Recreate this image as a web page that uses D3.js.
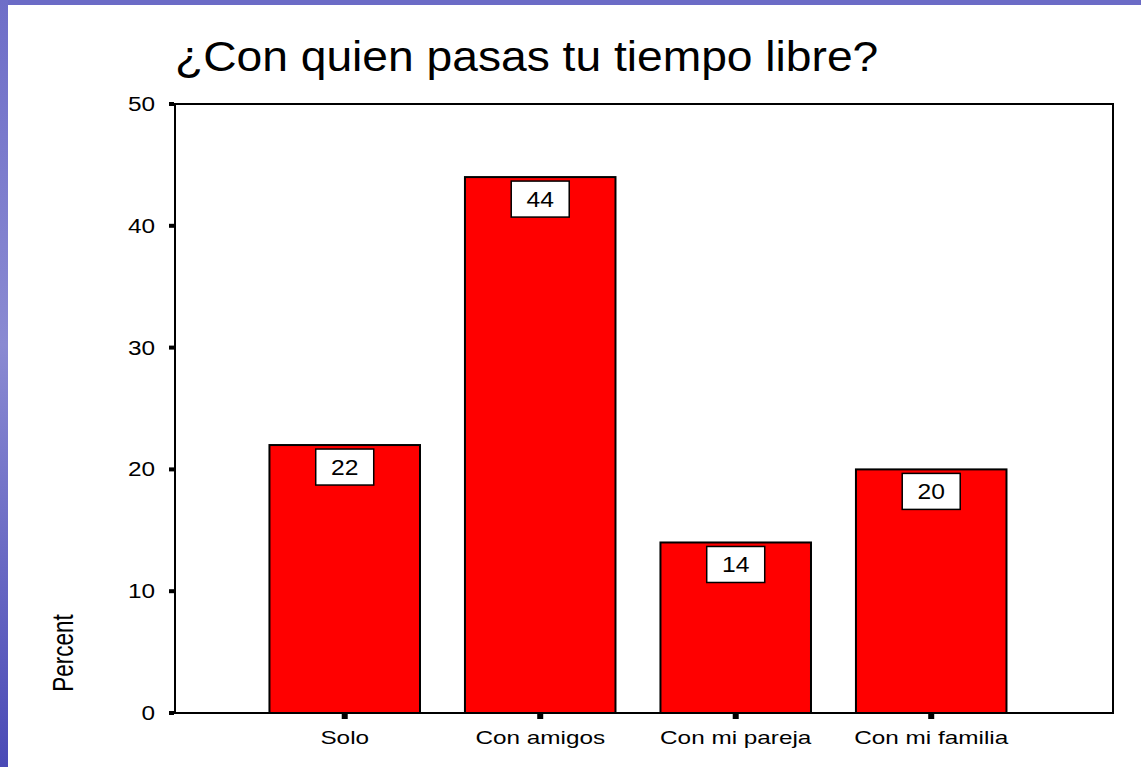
<!DOCTYPE html>
<meta charset="utf-8">
<script src="https://d3js.org/d3.v7.min.js"></script>
<style>
    body { margin: 0; background: #fff; }
    svg { display: block; font-family: "Liberation Sans", Arial, sans-serif; }
</style>
<body>
<div id="my_dataviz"></div>
<script>

    // data
    var categories = ["Solo", "Con amigos", "Con mi pareja", "Con mi familia"];
    var percents = [22, 44, 14, 20];
    var yTicks = [0, 10, 20, 30, 40, 50];

    var W = 1141, H = 767;
    var margin = { top: 104, right: 28, bottom: 54, left: 175 },
        width = W - margin.left - margin.right,
        height = H - margin.top - margin.bottom;

    // the original text looks a bit wider than normal, so stretch it
    var stretch = 1.25;

    var svg = d3.select("#my_dataviz")
        .append("svg")
        .attr("width", W)
        .attr("height", H);

    // slide background: blue strips on top and left
    var defs = svg.append("defs");
    var grad = defs.append("linearGradient")
        .attr("id", "leftGrad")
        .attr("x1", 0).attr("y1", 0).attr("x2", 0).attr("y2", 1);
    grad.append("stop").attr("offset", "0%").attr("stop-color", "#6e6ec8");
    grad.append("stop").attr("offset", "45%").attr("stop-color", "#8a8ad2");
    grad.append("stop").attr("offset", "100%").attr("stop-color", "#4a4ab6");

    svg.append("rect").attr("x", 0).attr("y", 0).attr("width", W).attr("height", 5).style("fill", "#6b6bc6");
    svg.append("rect").attr("x", 0).attr("y", 0).attr("width", 8).attr("height", H).style("fill", "url(#leftGrad)");

    // title
    svg.append("text")
        .attr("transform", "translate(175,71) scale(1.1,1)")
        .attr("font-size", "42px")
        .style("fill", "#000")
        .text("¿Con quien pasas tu tiempo libre?");

    var g = svg.append("g")
        .attr("transform", "translate(" + margin.left + "," + margin.top + ")");

    var x = d3.scaleBand()
        .domain(categories)
        .range([0, width])
        .paddingInner(0.23)
        .paddingOuter(0.514)
        .align(0.47);

    var y = d3.scaleLinear()
        .domain([0, 50])
        .range([height, 0]);

    // bars
    g.selectAll(".bar")
        .data(percents)
        .enter()
        .append("rect")
        .attr("class", "bar")
        .attr("x", function (d, i) { return x(categories[i]); })
        .attr("y", function (d) { return y(d); })
        .attr("width", x.bandwidth())
        .attr("height", function (d) { return height - y(d); })
        .style("fill", "#ff0000")
        .style("stroke", "#000")
        .style("stroke-width", 2);

    // value labels in white boxes
    var lab = g.selectAll(".lab")
        .data(percents)
        .enter()
        .append("g")
        .attr("transform", function (d, i) {
            return "translate(" + (x(categories[i]) + x.bandwidth() / 2) + "," + (y(d) + 4) + ")";
        });
    lab.append("rect")
        .attr("x", -29)
        .attr("y", 0)
        .attr("width", 58)
        .attr("height", 36)
        .style("fill", "#fff")
        .style("stroke", "#000")
        .style("stroke-width", 1.5);
    lab.append("text")
        .attr("text-anchor", "middle")
        .attr("transform", "translate(0,26) scale(1.12,1)")
        .attr("font-size", "22px")
        .text(function (d) { return d; });

    // frame
    g.append("rect")
        .attr("width", width)
        .attr("height", height)
        .style("fill", "none")
        .style("stroke", "#000")
        .style("stroke-width", 2);

    // Y axis: labels and small square ticks
    var yAxis = g.append("g");
    yAxis.selectAll("rect")
        .data(yTicks)
        .enter()
        .append("rect")
        .attr("x", -6)
        .attr("y", function (d) { return y(d) - 2; })
        .attr("width", 5)
        .attr("height", 4)
        .style("fill", "#000");
    yAxis.selectAll("text")
        .data(yTicks)
        .enter()
        .append("text")
        .attr("text-anchor", "end")
        .attr("transform", function (d) { return "translate(-20," + (y(d) + 7) + ") scale(" + stretch + ",1)"; })
        .attr("font-size", "19.5px")
        .text(function (d) { return d; });

    // X axis
    var xAxis = g.append("g").attr("transform", "translate(0," + height + ")");
    xAxis.selectAll("rect")
        .data(categories)
        .enter()
        .append("rect")
        .attr("x", function (d) { return x(d) + x.bandwidth() / 2 - 3; })
        .attr("y", 1)
        .attr("width", 6)
        .attr("height", 5)
        .style("fill", "#000");
    xAxis.selectAll("text")
        .data(categories)
        .enter()
        .append("text")
        .attr("text-anchor", "middle")
        .attr("transform", function (d) { return "translate(" + (x(d) + x.bandwidth() / 2) + ",31) scale(1.28,1)"; })
        .attr("font-size", "19px")
        .text(function (d) { return d; });

    // Y label
    svg.append("text")
        .attr("text-anchor", "middle")
        .attr("transform", "translate(73,653) rotate(-90) scale(1,1.28)")
        .attr("font-size", "22.5px")
        .text("Percent");

</script>
</body>
